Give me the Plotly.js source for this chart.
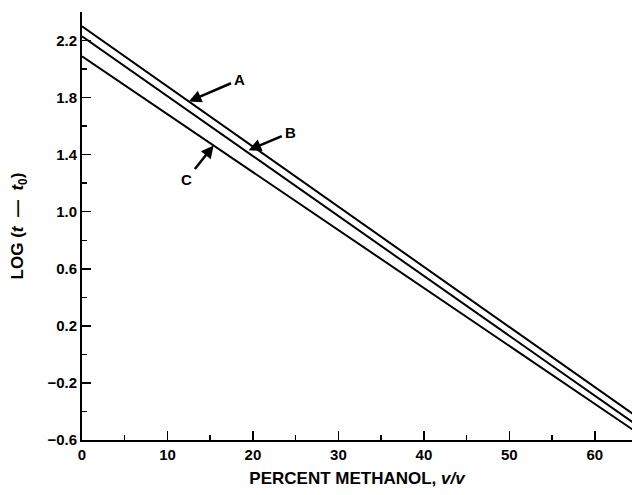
<!DOCTYPE html>
<html>
<head>
<meta charset="utf-8">
<script src="https://cdn.plot.ly/plotly-3.0.1.min.js"></script>
<style>html,body{margin:0;padding:0;background:#fff}#chart{width:632px;height:495px}</style>
</head>
<body>
<div id="chart"></div>
<script>
// Data (straight lines, end points)
const percentMethanol = [0, 65];
const seriesA = [2.30, -0.44];
const seriesB = [2.23, -0.50];
const seriesC = [2.09, -0.55];
const seriesNames = ['A', 'B', 'C'];
const yTickVals = [-0.6, -0.2, 0.2, 0.6, 1.0, 1.4, 1.8, 2.2];
const yTickText = ['\u22120.6', '\u22120.2', '0.2', '0.6', '1.0', '1.4', '1.8', '2.2'];
const xTickVals = [0, 10, 20, 30, 40, 50, 60];

function lineAt(series, x) {
  const x0 = percentMethanol[0], x1 = percentMethanol[1];
  return series[0] + (series[1] - series[0]) * (x - x0) / (x1 - x0);
}

const lineStyle = {color: '#000', width: 2};
const traces = [seriesA, seriesB, seriesC].map((s, i) => ({
  x: percentMethanol, y: s, mode: 'lines', name: seriesNames[i],
  line: lineStyle, hoverinfo: 'skip'
}));

const fam = 'Liberation Sans, Arial, sans-serif';
const tickFont = {family: fam, size: 15, color: '#000', weight: 700};
const titleFont = {family: fam, size: 17, color: '#000', weight: 700};

const annXA = 12.5, annXB = 19.5, annXC = 15.4;
const annotations = [
  {x: annXA, y: lineAt(seriesA, annXA), text: 'A', ax: 51, ay: -22},
  {x: annXB, y: lineAt(seriesB, annXB) + 0.02, text: 'B', ax: 42, ay: -18},
  {x: annXC, y: lineAt(seriesC, annXC), text: 'C', ax: -27, ay: 34}
].map(a => Object.assign(a, {
  xref: 'x', yref: 'y', showarrow: true, arrowhead: 2, arrowsize: 1,
  arrowwidth: 2.5, arrowcolor: '#000', standoff: 0, startstandoff: 2,
  font: {family: fam, size: 15, color: '#000', weight: 700}
}));

const layout = {
  width: 632, height: 495,
  margin: {l: 82, r: 0, t: 12, b: 55},
  paper_bgcolor: '#fff', plot_bgcolor: '#fff',
  showlegend: false,
  font: tickFont,
  xaxis: {
    range: [0, 64.35],
    tickvals: xTickVals,
    ticks: 'inside', ticklen: 9, tickwidth: 1.5, tickcolor: '#000',
    minor: {dtick: 5, tick0: 0, ticks: 'inside', ticklen: 5, tickwidth: 1.5, tickcolor: '#000'},
    showline: true, linecolor: '#000', linewidth: 2,
    showgrid: false, zeroline: false,
    tickfont: tickFont,
    title: {text: 'PERCENT METHANOL, <i>v/v</i>', standoff: 10, font: titleFont}
  },
  yaxis: {
    range: [-0.6, 2.4],
    tickvals: yTickVals, ticktext: yTickText,
    ticks: 'inside', ticklen: 9, tickwidth: 1.5, tickcolor: '#000',
    minor: {dtick: 0.4, tick0: -0.4, ticks: 'inside', ticklen: 5, tickwidth: 1.5, tickcolor: '#000'},
    showline: true, linecolor: '#000', linewidth: 2,
    showgrid: false, zeroline: false,
    tickfont: tickFont,
    title: {text: 'LOG (<i>t</i>  \u2014  <i>t</i><sub>0</sub>)', standoff: 19, font: titleFont}
  },
  annotations: annotations
};

Plotly.newPlot('chart', traces, layout, {displayModeBar: false, staticPlot: true});
</script>
</body>
</html>
